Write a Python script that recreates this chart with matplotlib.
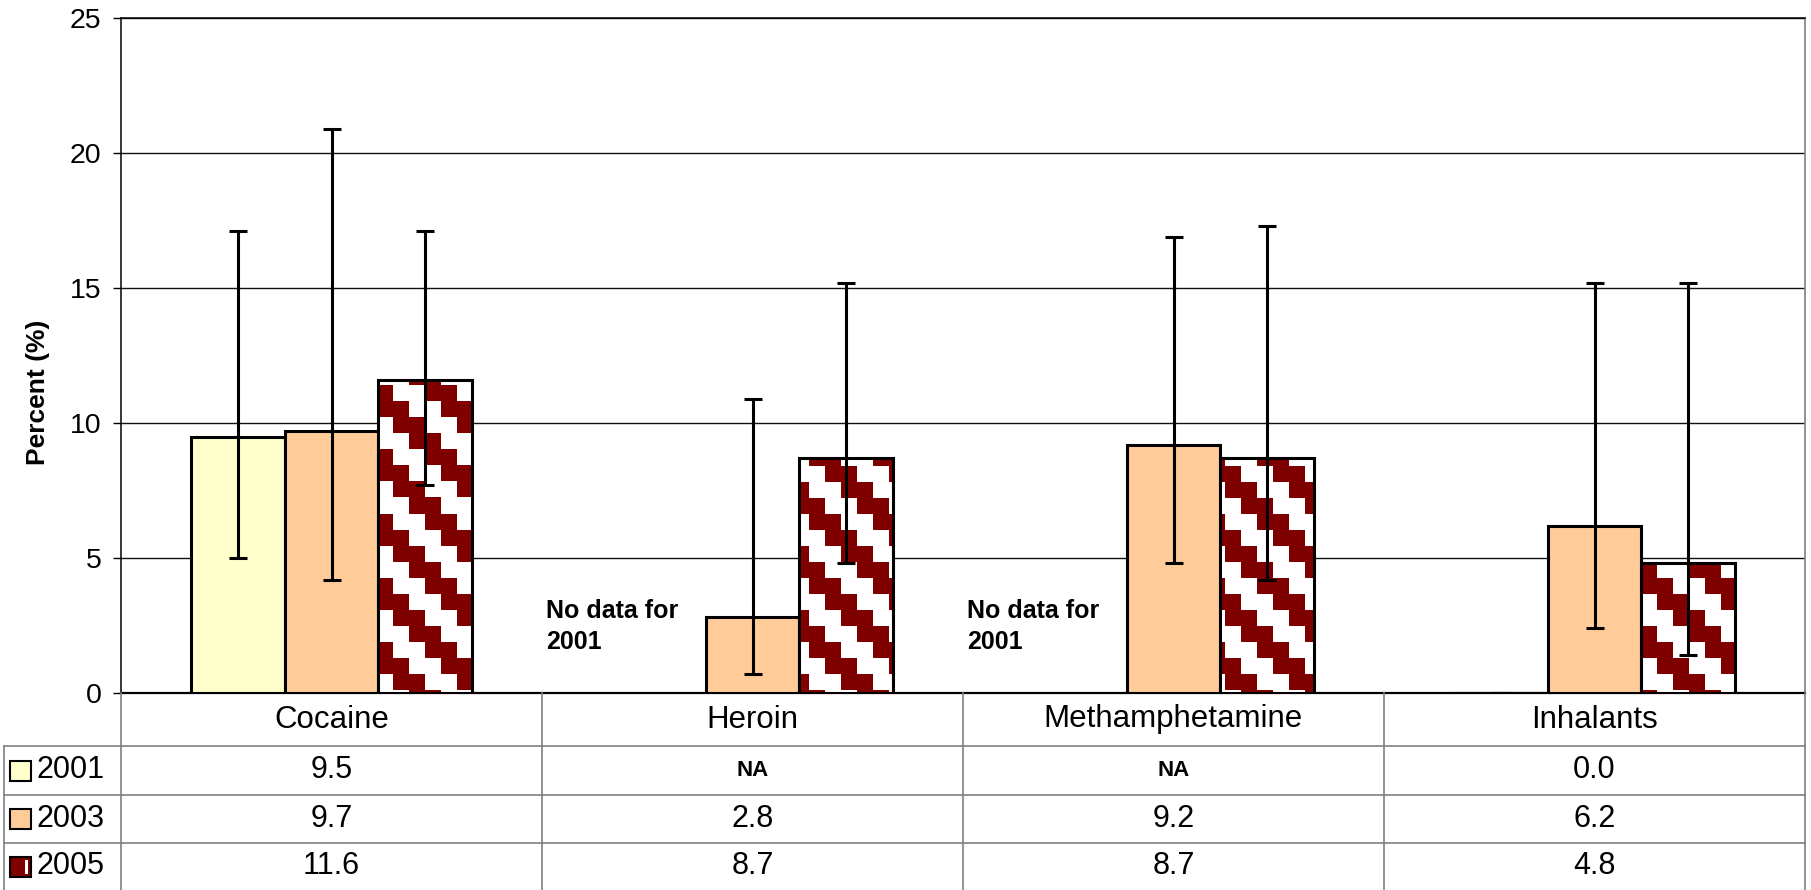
import numpy as np
import matplotlib.pyplot as plt
from matplotlib.lines import Line2D
from matplotlib.patches import Rectangle
from matplotlib.colors import ListedColormap
from matplotlib import transforms

plt.rcParams['font.family'] = ['Liberation Sans', 'DejaVu Sans']

# data
drugs = ['Cocaine', 'Heroin', 'Methamphetamine', 'Inhalants']
years = ['2001', '2003', '2005']
pct_2001 = [9.5, np.nan, np.nan, 0.0]
pct_2003 = [9.7, 2.8, 9.2, 6.2]
pct_2005 = [11.6, 8.7, 8.7, 4.8]
low_2001 = [5.0, np.nan, np.nan, 0.0]
high_2001 = [17.1, np.nan, np.nan, 0.0]
low_2003 = [4.2, 0.7, 4.8, 2.4]
high_2003 = [20.9, 10.9, 16.9, 15.2]
low_2005 = [7.7, 4.8, 4.2, 1.4]
high_2005 = [17.1, 15.2, 17.3, 15.2]
no_data_note = 'No data for\n2001'

W, H = 1811, 890
fig = plt.figure(figsize=(W / 100, H / 100), dpi=100)
ax_left, ax_right, ax_top, ax_bottom = 121, 1805, 18, 693
ax = fig.add_axes([ax_left / W, 1 - ax_bottom / H, (ax_right - ax_left) / W, (ax_bottom - ax_top) / H])

x = np.arange(len(drugs))
width = 0.223
dark_red = '#800000'

ax.bar(x - width, pct_2001, width, color='#FFFFCC', edgecolor='black', linewidth=2.2, zorder=3)
ax.bar(x, pct_2003, width, color='#FFCC99', edgecolor='black', linewidth=2.2, zorder=3)
bars05 = ax.bar(x + width, pct_2005, width, facecolor='none', edgecolor='black', linewidth=2.2, zorder=4)

# staircase pattern for 2005 bars (16 px blocks)
ax_w_px = ax_right - ax_left
ax_h_px = ax_bottom - ax_top
ncol, nrow = ax_w_px // 16 + 1, ax_h_px // 16 + 1
cc, rr = np.meshgrid(np.arange(ncol), np.arange(nrow))
pattern = (((cc - rr) % 4) < 2).astype(int)
xspan = len(drugs) * ncol * 16 / ax_w_px
yspan = 25 * nrow * 16 / ax_h_px
for b in bars05:
    im = ax.imshow(pattern, cmap=ListedColormap(['white', dark_red]), interpolation='nearest',
                   extent=(-0.5, -0.5 + xspan, 25 - yspan, 25), aspect='auto', zorder=3)
    im.set_clip_path(b)

# error bars
for off, vals, lo, hi in [(-width, pct_2001, low_2001, high_2001),
                          (0, pct_2003, low_2003, high_2003),
                          (width, pct_2005, low_2005, high_2005)]:
    v = np.array(vals)
    yerr = [v - np.array(lo), np.array(hi) - v]
    ax.errorbar(x + off, v, yerr=yerr, fmt='none', ecolor='black', elinewidth=2.2,
                capsize=6.5, capthick=2.2, zorder=5)

ax.set_xlim(-0.5, len(drugs) - 0.5)
ax.set_ylim(0, 25)
ax.set_yticks(range(0, 26, 5))
ax.set_xticks([])
ax.yaxis.grid(True, color='#111111', linewidth=1)
ax.set_axisbelow(True)
ax.tick_params(axis='y', direction='out', length=6, width=1, labelsize=20.5, pad=8)
for s in ['left', 'top']:
    ax.spines[s].set_color('black')
    ax.spines[s].set_linewidth(1.1)
ax.spines['bottom'].set_linewidth(1.6)
ax.spines['right'].set_color('#808080')
ax.spines['right'].set_linewidth(1.2)

fig.text(38 / W, 1 - 392 / H, 'Percent (%)', rotation=90, fontsize=19, fontweight='bold',
         ha='center', va='center')

for i in [1, 2]:
    ax.text(i - 0.49, 3.5, no_data_note, ha='left', va='top', fontsize=18,
            fontweight='bold', linespacing=1.4, zorder=6)

# data table below the plot
tb = transforms.blended_transform_factory(ax.transData, fig.transFigure)
row_px = [693, 746, 795, 843, 890]
row_y = [1 - r / H for r in row_px]
grey = '#808080'
for r in row_y[1:4]:
    fig.add_artist(Line2D([4 / W, ax_right / W], [r, r], color=grey, lw=1.2, transform=fig.transFigure))
fig.add_artist(Line2D([4 / W, 4 / W], [row_y[1], 0], color=grey, lw=1.2, transform=fig.transFigure))
for xb in [ax_left, ax_right]:
    fig.add_artist(Line2D([xb / W, xb / W], [row_y[0], 0], color=grey, lw=1.2, transform=fig.transFigure))
for i in range(len(drugs) - 1):
    fig.add_artist(Line2D([i + 0.5, i + 0.5], [row_y[0], 0], color=grey, lw=1.2, transform=tb))

for i, d in enumerate(drugs):
    fig.text(i, (row_y[0] + row_y[1]) / 2, d, transform=tb, ha='center', va='center', fontsize=22.5)

series = [pct_2001, pct_2003, pct_2005]
swatches = ['#FFFFCC', '#FFCC99', dark_red]
for k, (yr, vals) in enumerate(zip(years, series)):
    yc = (row_y[k + 1] + row_y[k + 2]) / 2
    fig.add_artist(Rectangle((10 / W, yc - 10 / H), 21 / W, 20 / H, facecolor=swatches[k],
                             edgecolor='black', lw=1.5, transform=fig.transFigure))
    if k == 2:
        fig.add_artist(Rectangle((25 / W, yc - 7 / H), 3 / W, 14 / H, facecolor='white',
                                 edgecolor='none', transform=fig.transFigure))
    fig.text(37 / W, yc, yr, ha='left', va='center', fontsize=22)
    for i, v in enumerate(vals):
        if np.isnan(v):
            fig.text(i, yc, 'NA', transform=tb, ha='center', va='center', fontsize=16, fontweight='bold')
        else:
            fig.text(i, yc, f'{v:.1f}', transform=tb, ha='center', va='center', fontsize=22)

fig.savefig('out.png', dpi=100)
